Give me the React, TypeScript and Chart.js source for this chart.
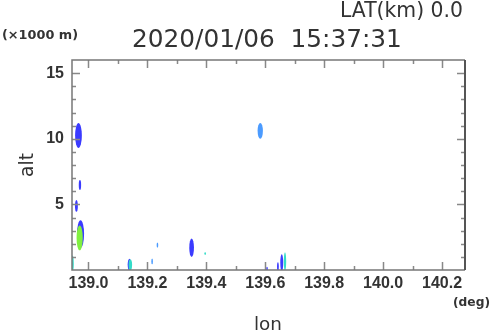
import React, { useEffect, useRef } from "react";
import { Chart, registerables } from "chart.js";
Chart.register(...registerables);

// axis ranges and ticks
const lonRange = [138.944, 140.278];
const altRange = [0, 16];
const xMajorTicks = [139.0, 139.2, 139.4, 139.6, 139.8, 140.0, 140.2];
const xMinorTicks = [139.1, 139.3, 139.5, 139.7, 139.9, 140.1];
const yMajorTicks = [5, 10, 15];
const yMinorTicks = [1, 2, 3, 4, 6, 7, 8, 9, 11, 12, 13, 14];

// echo cells: centre lon (deg), centre alt (km), half extent lon (deg), half extent alt (km), intensity level
const blobLon = [138.966, 138.971, 138.959, 138.973, 138.970, 138.946, 139.139, 139.142, 139.216, 139.234, 139.350, 139.396, 139.583, 139.643, 139.656, 139.667, 139.606];
const blobAlt = [10.25, 6.48, 4.88, 2.75, 2.45, 0.5, 0.4, 0.38, 0.65, 1.9, 1.7, 1.25, 10.6, 0.25, 0.55, 0.65, 0.1];
const blobHalfLon = [0.0115, 0.004, 0.005, 0.012, 0.0105, 0.004, 0.006, 0.006, 0.0025, 0.002, 0.008, 0.002, 0.009, 0.003, 0.005, 0.004, 0.002];
const blobHalfAlt = [0.95, 0.38, 0.45, 1.05, 0.95, 0.6, 0.45, 0.42, 0.22, 0.2, 0.7, 0.1, 0.6, 0.35, 0.65, 0.7, 0.15];
const blobLevel = [1, 1, 1, 1, 4, 3, 1, 3, 2, 2, 1, 3, 2, 1, 1, 3, 1];

const levelColors: Record<number, string> = {
  1: "#3b3bff",
  2: "#4b9bff",
  3: "#33dcc8",
  4: "#80f040",
};

const titleText = "2020/01/06  15:37:31";
const latText = "LAT(km) 0.0";
const unitText = "(\u00d71000 m)";
const degText = "(deg)";
const xTitle = "lon";
const yTitle = "alt";

// draw text scaled so its width matches a target width
function fitText(ctx: CanvasRenderingContext2D, text: string, weight: string, family: string, baseSize: number, targetW: number, x: number, y: number) {
  ctx.font = `${weight} ${baseSize}px ${family}`;
  const w = ctx.measureText(text).width;
  const size = (baseSize * targetW) / w;
  ctx.font = `${weight} ${size.toFixed(2)}px ${family}`;
  ctx.fillText(text, x, y);
}

const blobPlugin = {
  id: "blobs",
  beforeDatasetsDraw(chart: any) {
    const { ctx, chartArea, scales } = chart;
    const xs = scales.x;
    const ys = scales.y;
    ctx.save();
    ctx.beginPath();
    ctx.rect(chartArea.left, chartArea.top, chartArea.right - chartArea.left, chartArea.bottom - chartArea.top);
    ctx.clip();
    for (let i = 0; i < blobLon.length; i++) {
      const cx = xs.getPixelForValue(blobLon[i]);
      const cy = ys.getPixelForValue(blobAlt[i]);
      const rx = Math.abs(xs.getPixelForValue(blobLon[i] + blobHalfLon[i]) - cx);
      const ry = Math.abs(ys.getPixelForValue(blobAlt[i] + blobHalfAlt[i]) - cy);
      ctx.fillStyle = levelColors[blobLevel[i]];
      ctx.beginPath();
      ctx.ellipse(cx, cy, Math.max(rx, 0.8), Math.max(ry, 0.8), 0, 0, Math.PI * 2);
      ctx.fill();
    }
    ctx.restore();
  },
  afterDraw(chart: any) {
    const { ctx, chartArea, scales } = chart;
    const { left, right, top, bottom } = chartArea;
    const xs = scales.x;
    const ys = scales.y;
    ctx.save();
    // tick marks
    ctx.strokeStyle = "#888";
    ctx.lineWidth = 1.5;
    const vtick = (v: number, len: number) => {
      const px = Math.round(xs.getPixelForValue(v)) + 0.5;
      ctx.beginPath();
      ctx.moveTo(px, bottom);
      ctx.lineTo(px, bottom - len);
      ctx.moveTo(px, top);
      ctx.lineTo(px, top + len);
      ctx.stroke();
    };
    const htick = (v: number, len: number) => {
      const py = Math.round(ys.getPixelForValue(v)) + 0.5;
      ctx.beginPath();
      ctx.moveTo(left, py);
      ctx.lineTo(left + len, py);
      ctx.moveTo(right, py);
      ctx.lineTo(right - len, py);
      ctx.stroke();
    };
    xMajorTicks.forEach((v) => vtick(v, 8));
    xMinorTicks.forEach((v) => vtick(v, 4));
    yMajorTicks.forEach((v) => htick(v, 8));
    yMinorTicks.forEach((v) => htick(v, 4));
    // frame
    ctx.strokeStyle = "#777";
    ctx.lineWidth = 1.5;
    ctx.beginPath();
    ctx.moveTo(right, top);
    ctx.lineTo(left, top);
    ctx.lineTo(left, bottom);
    ctx.lineTo(right, bottom);
    ctx.stroke();
    ctx.strokeStyle = "#555";
    ctx.lineWidth = 2;
    ctx.beginPath();
    ctx.moveTo(right, top);
    ctx.lineTo(right, bottom);
    ctx.stroke();

    // texts
    const fam = "'DejaVu Sans'";
    ctx.fillStyle = "#333";
    ctx.textBaseline = "alphabetic";
    ctx.textAlign = "left";
    fitText(ctx, latText, "normal", fam, 20, 123, 340, 17);
    fitText(ctx, titleText, "normal", fam, 25, 270, 132, 47);
    fitText(ctx, unitText, "bold", fam, 12, 76, 2, 39);
    fitText(ctx, degText, "bold", fam, 12, 37, 453, 306);
    fitText(ctx, xTitle, "normal", fam, 18.5, 28, 254, 330);
    ctx.save();
    ctx.translate(33, 177);
    ctx.rotate(-Math.PI / 2);
    fitText(ctx, yTitle, "normal", fam, 19, 24, 0, 0);
    ctx.restore();
    ctx.restore();
  },
};

export default function App() {
  const ref = useRef<HTMLCanvasElement | null>(null);
  useEffect(() => {
    document.body.style.margin = "0";
    const canvas = ref.current!;
    const tickFont = { family: "'Liberation Sans'", size: 16, weight: "bold" as const };
    const chart = new Chart(canvas, {
      type: "scatter",
      data: {
        datasets: [
          {
            data: blobLon.map((x, i) => ({ x, y: blobAlt[i] })),
            pointRadius: 0,
            showLine: false,
          },
        ],
      },
      options: {
        responsive: false,
        animation: false,
        layout: { padding: { top: 60, right: 25, left: 0, bottom: 0 } },
        plugins: { legend: { display: false }, tooltip: { enabled: false }, title: { display: false } },
        scales: {
          x: {
            type: "linear",
            min: lonRange[0],
            max: lonRange[1],
            grid: { display: false, drawTicks: false },
            border: { display: false },
            afterBuildTicks: (s: any) => {
              s.ticks = xMajorTicks.map((v) => ({ value: v }));
            },
            afterFit: (s: any) => {
              s.height = 61;
            },
            ticks: {
              autoSkip: false,
              maxRotation: 0,
              padding: 4,
              color: "#333",
              font: tickFont,
              callback: (v: any) => Number(v).toFixed(1),
            },
          },
          y: {
            type: "linear",
            min: altRange[0],
            max: altRange[1],
            grid: { display: false, drawTicks: false },
            border: { display: false },
            afterBuildTicks: (s: any) => {
              s.ticks = yMajorTicks.map((v) => ({ value: v }));
            },
            afterFit: (s: any) => {
              s.width = 72;
            },
            ticks: {
              autoSkip: false,
              padding: 8,
              color: "#333",
              font: tickFont,
              callback: (v: any) => String(v),
            },
          },
        },
      },
      plugins: [blobPlugin],
    });
    return () => chart.destroy();
  }, []);
  return <canvas ref={ref} width={490} height={331} style={{ display: "block" }} />;
}
